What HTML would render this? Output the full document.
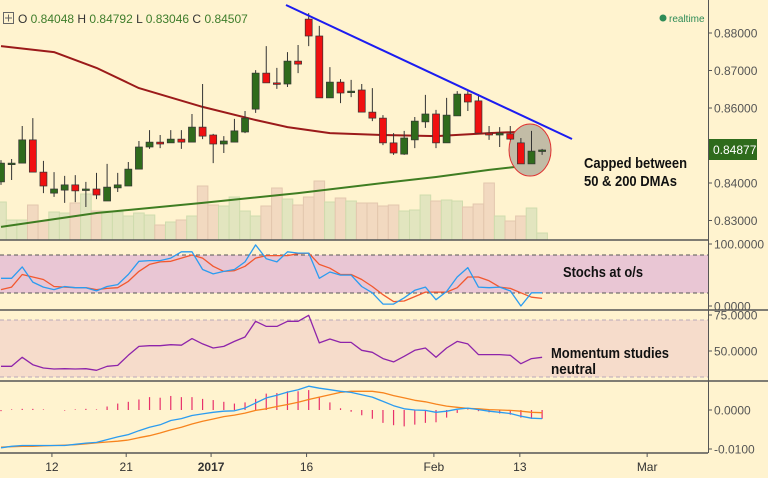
<!DOCTYPE html>
<html><head><meta charset="utf-8"><style>
html,body{margin:0;padding:0;background:#fff3cf;}
svg{display:block;font-family:"Liberation Sans",sans-serif;}
</style></head><body>
<svg id="chart" width="768" height="478" viewBox="0 0 768 478" xmlns="http://www.w3.org/2000/svg">
<rect x="0" y="0" width="768" height="478" fill="#fff3cf"/>
<rect x="0" y="255" width="708" height="38" fill="#e9c6d4"/>
<rect x="0" y="320" width="708" height="57" fill="#f6dccb"/>
<line x1="0" y1="255" x2="708" y2="255" stroke="#555" stroke-dasharray="4,3"/>
<line x1="0" y1="293" x2="708" y2="293" stroke="#555" stroke-dasharray="4,3"/>
<line x1="0" y1="320" x2="708" y2="320" stroke="#b8a8b8" stroke-dasharray="4,3"/>
<line x1="0" y1="377" x2="708" y2="377" stroke="#b8a8b8" stroke-dasharray="4,3"/>
<g id="vol"></g>
<g id="ma"></g>
<ellipse cx="530" cy="150" rx="21" ry="26" fill="#c2bca6" stroke="#e03030" stroke-width="1"/>
<g id="candles"></g>
<line x1="286" y1="5" x2="572" y2="139" stroke="#1c1cf0" stroke-width="2"/>
<g id="stoch"></g>
<g id="mom"></g>
<g id="macd"></g>
<line x1="0" y1="240" x2="708" y2="240" stroke="#555" stroke-width="1.5"/>
<line x1="0" y1="310" x2="768" y2="310" stroke="#555" stroke-width="1.5"/>
<line x1="0" y1="381" x2="768" y2="381" stroke="#555" stroke-width="1.5"/>
<line x1="0" y1="453" x2="708" y2="453" stroke="#555" stroke-width="1.5"/>
<line x1="708.5" y1="0" x2="708.5" y2="453" stroke="#555" stroke-width="1"/>
<g id="axis" font-size="12" fill="#555"></g>
<rect x="709" y="139" width="48" height="21" fill="#2e6b1c"/>
<text x="713" y="154" font-size="12" fill="#fff">0.84877</text>
<rect x="3.5" y="12.5" width="10" height="11" fill="none" stroke="#666"/>
<path d="M8.5 14.5v7M5 18h7" stroke="#666"/>
<text x="18" y="23" font-size="12" fill="#333">O <tspan fill="#3e7d2b">0.84048</tspan> H <tspan fill="#3e7d2b">0.84792</tspan> L <tspan fill="#3e7d2b">0.83046</tspan> C <tspan fill="#3e7d2b">0.84507</tspan></text>
<circle cx="663" cy="18" r="3.5" fill="#2e8b57"/>
<text x="669" y="22" font-size="10" fill="#2e8b57">realtime</text>
<text font-size="15" font-weight="bold" fill="#111"><tspan x="584" y="168" textLength="103" lengthAdjust="spacingAndGlyphs">Capped between</tspan><tspan x="584" y="186" textLength="93" lengthAdjust="spacingAndGlyphs">50 &amp; 200 DMAs</tspan></text>
<text x="563" y="277" font-size="15" font-weight="bold" fill="#111" textLength="80" lengthAdjust="spacingAndGlyphs">Stochs at o/s</text>
<text font-size="15" font-weight="bold" fill="#111"><tspan x="551" y="358" textLength="118" lengthAdjust="spacingAndGlyphs">Momentum studies</tspan><tspan x="551" y="374" textLength="45" lengthAdjust="spacingAndGlyphs">neutral</tspan></text>
</svg>
<script>
const opens=[.8403,.8452,.8453,.8515,.8429,.8373,.8381,.8395,.8381,.8384,.8352,.8387,.8392,.8437,.8496,.8509,.8507,.8517,.8509,.8549,.8528,.8504,.8509,.8536,.8597,.8693,.8667,.8664,.8725,.8837,.8792,.8627,.8669,.8643,.8648,.8589,.8573,.8507,.8477,.8515,.8563,.8584,.8507,.8579,.8637,.8619,.8533,.8528,.8531,.8507,.8451,.8485];
const highs=[.8461,.8464,.8552,.8573,.8459,.8429,.8419,.8421,.8403,.8427,.8451,.8427,.8456,.8512,.8541,.8528,.8541,.8541,.8584,.8664,.8531,.8525,.8571,.8592,.8701,.8765,.8707,.8749,.8768,.8853,.8819,.8709,.8677,.8675,.8664,.8653,.8581,.8533,.8539,.8576,.8635,.8595,.8627,.8645,.8648,.8637,.8552,.8549,.8552,.8520,.8539,.8491];
const lows=[.8395,.8408,.8453,.8429,.8373,.8363,.8347,.8349,.8336,.8357,.8352,.8376,.8392,.8437,.8491,.8493,.8507,.8491,.8509,.8517,.8453,.8480,.8509,.8533,.8587,.8667,.8651,.8656,.8693,.8765,.8627,.8627,.8613,.8629,.8589,.8565,.8501,.8475,.8475,.8493,.8547,.8493,.8507,.8579,.8592,.8533,.8515,.8496,.8515,.8451,.8451,.8475];
const closes=[.8453,.8453,.8515,.8429,.8392,.8384,.8395,.8379,.8384,.8368,.8389,.8395,.8437,.8496,.8509,.8504,.8517,.8509,.8549,.8525,.8504,.8512,.8539,.8573,.8693,.8667,.8664,.8725,.8717,.8792,.8627,.8669,.8640,.8645,.8589,.8573,.8507,.8480,.8520,.8565,.8584,.8507,.8581,.8637,.8616,.8533,.8528,.8533,.8517,.8451,.8485,.8488];
const volumes=[38,20,20,35,19,28,27,37,46,29,29,28,24,27,25,15,18,20,24,54,35,34,43,29,24,34,52,41,35,43,59,38,42,39,37,37,34,35,29,30,45,39,40,39,33,36,57,24,19,24,32,7];
const ma50Idx=[0,5,9,13,19,24,27,31,36,41,46,51];
const ma50Val=[.8765,.8749,.8707,.8653,.8603,.8568,.8549,.8533,.8528,.8525,.8533,.8539];
const ma200Idx=[0,9,19,28,36,41,46,51];
const ma200Val=[.8283,.8320,.8347,.8373,.8400,.8416,.8435,.8451];
const stochK=[44,44,62,38,30,26,31,29,29,24,31,34,50,71,72,72,76,86,86,58,51,55,58,70,97,75,70,86,84,84,44,54,49,49,31,21,3,3,13,25,30,10,23,46,61,30,29,30,24,0,21,21];
const stochD=[26,30,50,46,42,31,30,29,29,26,28,29,39,55,66,70,71,76,81,76,63,55,56,63,76,80,80,80,83,84,66,60,50,50,42,31,18,7,8,15,22,22,22,29,46,46,40,30,28,21,14,12];
const momentum=[39.4,39.4,45.6,40.5,38.2,37.5,37.7,37.5,37.7,36.6,39.4,40,47,53.2,53.7,53.7,54.4,54,58.6,54.9,52.1,53.2,56.7,59.7,70.6,67.1,67.1,70.6,70.6,74.8,55.6,58.3,56,56,50.5,49.1,44.7,42.4,46.3,50.5,52.1,45.6,52.1,56.7,54.9,47.5,47.5,47.5,47,41.2,44.7,45.6];
const macdLine=[-97,-93,-91,-91,-91,-91,-91,-88,-85,-83,-76,-69,-63,-53,-44,-38,-27,-22,-14,-10,-6,-3,-2,5,18,31,38,46,52,61,56,52,48,45,39,33,22,11,3,0,-1,-6,-3,2,5,1,-3,-6,-9,-16,-21,-22];
const signalLine=[-95,-94,-93,-93,-92,-91,-90,-89,-87,-84,-82,-80,-77,-71,-66,-59,-51,-44,-36,-29,-23,-17,-13,-8,-1,3,9,14,20,27,33,39,45,48,48,48,44,37,31,25,21,15,10,7,4,3,1,0,-1,-3,-6,-7];
const priceTicks=["0.88000","0.87000","0.86000","0.84000","0.83000"];
const priceTickVals=[.88,.87,.86,.84,.83];
const dateLabels=["12","21","2017","16","Feb","13","Mar"];
const dateIdx=[4.8,11.8,19.8,28.8,40.8,48.9,60.9];

const NS="http://www.w3.org/2000/svg";
const X=i=>1+10.61*i;
const Y=p=>33+(0.88-p)*3750;
const YS=v=>306-v*0.63;
const YM=v=>351-(v-50)*1.44;
const YD=v=>410-v*0.39;
function mk(tag,parent,attrs){const e=document.createElementNS(NS,tag);for(const k in attrs)e.setAttribute(k,attrs[k]);parent.appendChild(e);return e;}
function poly(parent,xs,ys,color,w,name){
  const pts=xs.map((x,k)=>x.toFixed(1)+","+ys[k].toFixed(1)).join(" ");
  const e=mk("polyline",parent,{points:pts,fill:"none",stroke:color,"stroke-width":w,"stroke-linejoin":"round"});
  
  
  return e;
}
const vg=document.getElementById("vol");
volumes.forEach((v,i)=>{
  const up=closes[i]>=opens[i];
  const r=mk("rect",vg,{x:(X(i)-5.3).toFixed(1),y:(240-v).toFixed(1),width:10.6,height:v,fill:up?"#e2e5bf":"#f2d9c0",stroke:up?"#cfdcad":"#e3c7ae","stroke-width":1});
  
  
});
const mg=document.getElementById("ma");
poly(mg,ma50Idx.map(X),ma50Val.map(Y),"#9b1a1a",2,"ma-50-line");
poly(mg,ma200Idx.map(X),ma200Val.map(Y),"#3f7d22",2,"ma-200-line");
const cg=document.getElementById("candles");
opens.forEach((o,i)=>{
  const c=closes[i],up=c>=o,x=X(i);
  const w=mk("line",cg,{x1:x,x2:x,y1:Y(highs[i]),y2:Y(lows[i]),stroke:"#333","stroke-width":1});
  
  
  const top=Y(Math.max(o,c)),h=Math.max(1.5,Math.abs(Y(o)-Y(c)));
  const b=mk("rect",cg,{x:x-3.5,y:top,width:7,height:h,fill:up?"#2f6b1c":"#f01010",stroke:"#333","stroke-width":0.7});
  
  
});
const sg=document.getElementById("stoch");
const idx=stochK.map((_,i)=>X(i));
poly(sg,idx,stochD.map(YS),"#f2582f",1.3,"stoch-d-line");
poly(sg,idx,stochK.map(YS),"#2b9cf0",1.3,"stoch-k-line");
const og=document.getElementById("mom");
poly(og,momentum.map((_,i)=>X(i)),momentum.map(YM),"#8e24aa",1.3,"momentum-line");
const dg=document.getElementById("macd");
macdLine.forEach((m,i)=>{
  const h=(m-signalLine[i])*1.5;
  const l=mk("line",dg,{x1:X(i),x2:X(i),y1:410,y2:410-h*0.39,stroke:"#e8306a","stroke-width":1.2});
  
  
});
poly(dg,signalLine.map((_,i)=>X(i)),signalLine.map(YD),"#f7841e",1.3,"macd-signal-line");
poly(dg,macdLine.map((_,i)=>X(i)),macdLine.map(YD),"#2b9cf0",1.3,"macd-line");
const ag=document.getElementById("axis");
function tick(y,label,name){
  const t=mk("line",ag,{x1:708,x2:712,y1:y,y2:y,stroke:"#555"});
  
  
  const tx=mk("text",ag,{x:714,y:y+4.5});
  tx.textContent=label;
  
  
}
priceTicks.forEach((t,k)=>tick(Y(priceTickVals[k]),t,"price-tick-label"));
tick(YS(100)+1,"100.0000","stoch-tick-label");
tick(YS(0),"0.0000","stoch-tick-label");
tick(YM(75),"75.0000","momentum-tick-label");
tick(YM(50),"50.0000","momentum-tick-label");
tick(YD(0),"0.0000","macd-tick-label");
tick(YD(-100),"-0.0100","macd-tick-label");
dateLabels.forEach((d,k)=>{
  const x=X(dateIdx[k]);
  const t=mk("line",ag,{x1:x,x2:x,y1:453,y2:457,stroke:"#555"});
  
  
  const tx=mk("text",ag,{x:x,y:471,"text-anchor":"middle",fill:"#333","font-weight":d==="2017"?"bold":"normal"});
  tx.textContent=d;
  
  
});
</script>
</body></html>
